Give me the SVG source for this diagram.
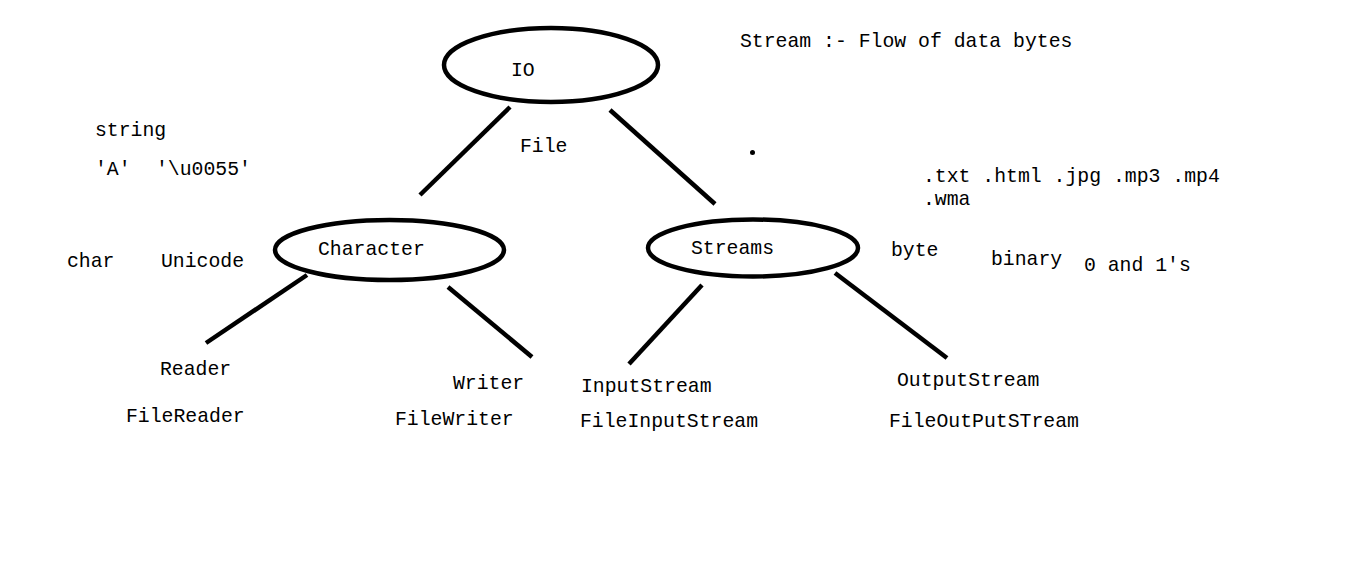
<svg xmlns="http://www.w3.org/2000/svg" width="1360" height="568" viewBox="0 0 1360 568">
<style>
  text { font-family: "Liberation Mono", "DejaVu Sans Mono", monospace; font-size: 19.8px; fill: #000; }
  .node ellipse { fill: #fff; stroke: #000; stroke-width: 4.5; }
  .conn line { stroke: #000; stroke-width: 4.5; stroke-linecap: butt; }
</style>
<rect width="1360" height="568" fill="#fff"/>
<g class="conn" id="connectors">
  <line x1="510" y1="107" x2="420" y2="195"/>
  <line x1="610" y1="110" x2="715" y2="204"/>
  <line x1="307" y1="275" x2="206" y2="343"/>
  <line x1="448" y1="287" x2="532" y2="357"/>
  <line x1="702" y1="285" x2="629" y2="364"/>
  <line x1="835" y1="273" x2="947" y2="358"/>
</g>
<g class="node" id="node-io">
  <ellipse cx="551" cy="65" rx="107" ry="37"/>
  <text x="511" y="76">IO</text>
</g>
<g class="node" id="node-character">
  <ellipse cx="389.5" cy="250" rx="114.5" ry="30"/>
  <text x="318" y="255">Character</text>
</g>
<g class="node" id="node-streams">
  <ellipse cx="753" cy="248" rx="105" ry="28.5"/>
  <text x="691" y="254">Streams</text>
</g>
<g id="node-reader"><text x="160" y="375">Reader</text></g>
<g id="node-filereader"><text x="126" y="422">FileReader</text></g>
<g id="node-writer"><text x="453" y="389">Writer</text></g>
<g id="node-filewriter"><text x="395" y="425">FileWriter</text></g>
<g id="node-inputstream"><text x="581" y="392">InputStream</text></g>
<g id="node-fileinputstream"><text x="580" y="427">FileInputStream</text></g>
<g id="node-outputstream"><text x="897" y="386">OutputStream</text></g>
<g id="node-fileoutputstream"><text x="889" y="427">FileOutPutSTream</text></g>
<g id="notes">
  <text x="740" y="47">Stream :- Flow of data bytes</text>
  <text x="95" y="136">string</text>
  <text x="95" y="175">'A'</text>
  <text x="156" y="175">'\u0055'</text>
  <text x="67" y="267">char</text>
  <text x="161" y="267">Unicode</text>
  <text x="520" y="152">File</text>
  <text x="923" y="182">.txt .html .jpg .mp3 .mp4</text>
  <text x="923" y="205">.wma</text>
  <text x="891" y="256">byte</text>
  <text x="991" y="265">binary</text>
  <text x="1084" y="271">0 and 1's</text>
  <circle cx="752.5" cy="152.5" r="2.5" fill="#000"/>
</g>
</svg>
